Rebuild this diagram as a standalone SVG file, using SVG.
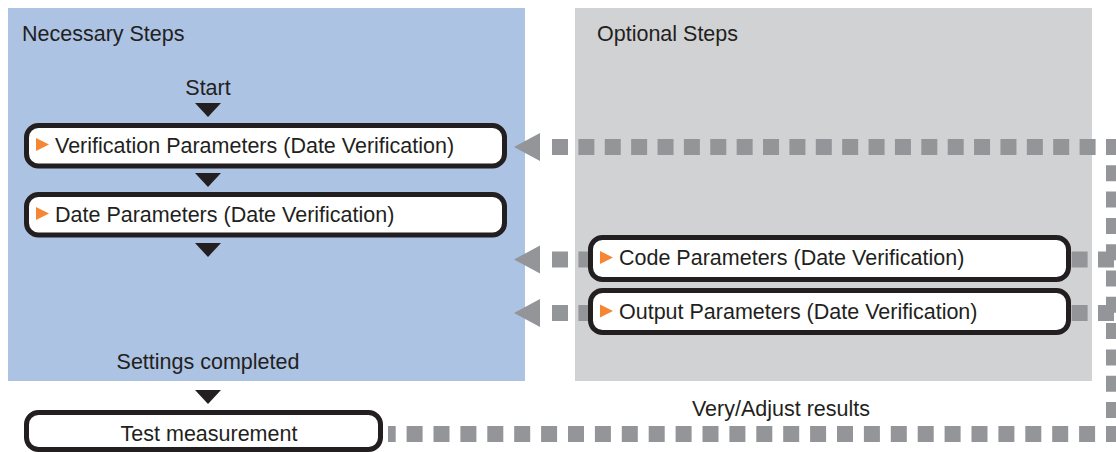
<svg xmlns="http://www.w3.org/2000/svg" width="1116" height="452" viewBox="0 0 1116 452">
  <style>
    .t { font-family: "Liberation Sans", Arial, sans-serif; font-size: 21.5px; fill: #231f20; }
    .mid { text-anchor: middle; }
    .box { fill: #ffffff; stroke: #231f20; stroke-width: 5; }
    .tri { fill: #231f20; }
    .ora { fill: #f58634; }
    .dash { fill: none; stroke: #939598; stroke-width: 16; }
    .ah { fill: #939598; }
  </style>
  <defs>
    <polygon id="down" points="-13,0 13,0 0,14"/>
    <polygon id="play" points="0,0 0,13 13,6.5"/>
  </defs>

  <g id="panel-necessary">
    <rect x="8" y="8" width="517" height="373" fill="#adc3e4"/>
    <text class="t" x="22" y="41">Necessary Steps</text>
  </g>
  <g id="panel-optional">
    <rect x="575" y="8" width="517" height="373" fill="#d1d2d4"/>
    <text class="t" x="597" y="41">Optional Steps</text>
  </g>

  <g id="connectors">
    <use href="#down" class="tri" x="208" y="103"/>
    <use href="#down" class="tri" x="208" y="173"/>
    <use href="#down" class="tri" x="208" y="243"/>
    <use href="#down" class="tri" x="208" y="390"/>
    <path class="dash" d="M552 147 H1122" stroke-dasharray="16 10.38"/>
    <path class="dash" d="M1114 139 V442" stroke-dasharray="16 10.3"/>
    <path class="dash" d="M1122 434 H388" stroke-dasharray="16 10.9"/>
    <path class="dash" d="M552 259.5 H594" stroke-dasharray="16 10.4"/>
    <path class="dash" d="M1114 259.5 H1066" stroke-dasharray="16 10.4"/>
    <path class="dash" d="M552 313 H594" stroke-dasharray="16 10.4"/>
    <path class="dash" d="M1114 313 H1066" stroke-dasharray="16 10.4"/>
    <polygon class="ah" points="514,147 540,133 540,161"/>
    <polygon class="ah" points="514,259.5 540,245.5 540,273.5"/>
    <polygon class="ah" points="514,313 540,299 540,327"/>
  </g>

  <g id="start">
    <text class="t mid" x="208" y="95">Start</text>
  </g>
  <g id="verification-parameters">
    <rect class="box" x="26.5" y="125.5" width="478" height="40.5" rx="12"/>
    <use href="#play" class="ora" x="36" y="138"/>
    <text class="t" x="55" y="152.5">Verification Parameters (Date Verification)</text>
  </g>
  <g id="date-parameters">
    <rect class="box" x="26.5" y="194.5" width="478" height="40.5" rx="12"/>
    <use href="#play" class="ora" x="36" y="207"/>
    <text class="t" x="55" y="221.5">Date Parameters (Date Verification)</text>
  </g>
  <g id="code-parameters">
    <rect class="box" x="590.5" y="237.5" width="478" height="42" rx="12"/>
    <use href="#play" class="ora" x="600" y="251"/>
    <text class="t" x="619" y="265">Code Parameters (Date Verification)</text>
  </g>
  <g id="output-parameters">
    <rect class="box" x="590.5" y="290.5" width="478" height="42" rx="12"/>
    <use href="#play" class="ora" x="600" y="304.5"/>
    <text class="t" x="619" y="318.5">Output Parameters (Date Verification)</text>
  </g>
  <g id="settings-completed">
    <text class="t mid" x="208" y="369">Settings completed</text>
  </g>
  <g id="test-measurement">
    <rect class="box" x="26.5" y="412.5" width="354" height="37" rx="12"/>
    <text class="t mid" x="209" y="441">Test measurement</text>
  </g>
  <g id="verify-label">
    <text class="t mid" x="781" y="416">Very/Adjust results</text>
  </g>
</svg>
